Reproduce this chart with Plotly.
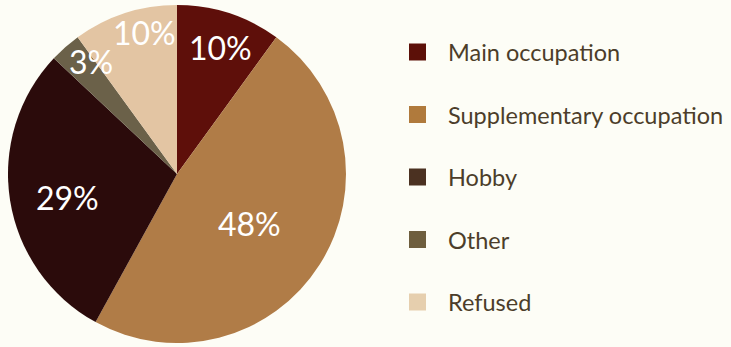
import math
import plotly.graph_objects as go

# Survey shares: what the activity means to respondents
categories = ["Main occupation", "Supplementary occupation", "Hobby", "Other", "Refused"]
shares = [10, 48, 29, 3, 10]

slice_colors = ["#5e0f0a", "#b07c47", "#2b0b0b", "#6b6149", "#e3c5a3"]
legend_colors = ["#5c1008", "#b07a3c", "#4b3121", "#6e5e3e", "#e6cfae"]
label_radius = [0.79, 0.52, 0.66, 0.84, 0.86]   # label distance from centre, fraction of radius
label_shift = [1, 2, -3, 4, 5]                   # small clockwise angle tweaks, degrees

W, H = 731, 347
cx, cy, R = 177, 174, 169   # pie centre / radius in pixels (y from top)
FONT = "Lato, Open Sans, sans-serif"
BG = "#fdfdf6"

fig = go.Figure(go.Pie(
    labels=categories,
    values=shares,
    sort=False,
    direction="clockwise",
    rotation=0,
    marker=dict(colors=slice_colors, line=dict(width=0)),
    textinfo="none",
    hoverinfo="label+percent",
    showlegend=False,
    domain=dict(x=[(cx - R) / W, (cx + R) / W],
                y=[(H - cy - R) / H, (H - cy + R) / H]),
))

annotations = []
shapes = []

# Percentage labels placed at each slice's mid-angle
total = sum(shares)
start = 0.0
for v, rf, dt in zip(shares, label_radius, label_shift):
    span = 360.0 * v / total
    mid = math.radians(start + span / 2 + dt)
    px = cx + rf * R * math.sin(mid)
    py = cy - rf * R * math.cos(mid)
    annotations.append(dict(
        x=px / W, y=1 - py / H, xref="paper", yref="paper",
        text=f"{round(100 * v / total)}%", showarrow=False,
        font=dict(family=FONT, size=32, color="#ffffff"),
        xanchor="center", yanchor="middle",
    ))
    start += span

# Legend: square swatch and label per category
row0, row_gap = 52, 62.5
sq = 17
for i, (name, col) in enumerate(zip(categories, legend_colors)):
    yc = row0 + i * row_gap
    shapes.append(dict(
        type="rect", xref="paper", yref="paper",
        x0=409 / W, x1=(409 + sq) / W,
        y0=1 - (yc + sq / 2) / H, y1=1 - (yc - sq / 2) / H,
        fillcolor=col, line=dict(width=0),
    ))
    annotations.append(dict(
        x=446 / W, y=1 - yc / H, xref="paper", yref="paper",
        text=name, showarrow=False, xanchor="left", yanchor="middle",
        font=dict(family=FONT, size=23.5, color="#4c3d2a"),
    ))

fig.update_layout(
    width=W, height=H,
    margin=dict(l=0, r=0, t=0, b=0),
    paper_bgcolor=BG, plot_bgcolor=BG,
    annotations=annotations,
    shapes=shapes,
)

fig.write_html("out.html", config={"displayModeBar": False})
